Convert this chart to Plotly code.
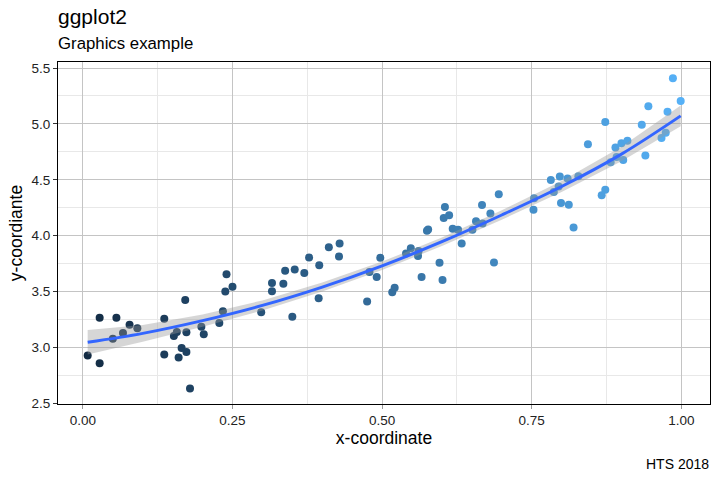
import plotly.graph_objects as go

# scatter points
x_vals = [0.008, 0.028, 0.028, 0.050, 0.056, 0.067, 0.078, 0.091, 0.136, 0.136,
          0.152, 0.157, 0.160, 0.165, 0.173, 0.171, 0.173, 0.179, 0.198, 0.202,
          0.228, 0.234, 0.238, 0.240, 0.250, 0.298, 0.316, 0.316, 0.335, 0.338,
          0.354, 0.370, 0.350, 0.378, 0.395, 0.394, 0.411, 0.428, 0.429, 0.475,
          0.479, 0.491, 0.497, 0.517, 0.521, 0.540, 0.548, 0.561, 0.560, 0.566,
          0.575, 0.577, 0.596, 0.601, 0.603, 0.605, 0.612, 0.618, 0.627, 0.633,
          0.651, 0.657, 0.667, 0.668, 0.681, 0.687, 0.695, 0.753, 0.754, 0.782,
          0.787, 0.797, 0.795, 0.799, 0.812, 0.810, 0.820, 0.828, 0.844, 0.867,
          0.873, 0.873, 0.882, 0.890, 0.892, 0.900, 0.910, 0.903, 0.934, 0.940,
          0.945, 0.967, 0.974, 0.977, 0.986, 0.999]
y_vals = [2.929, 2.858, 3.266, 3.077, 3.266, 3.130, 3.204, 3.172, 2.937, 3.257,
          3.103, 3.139, 2.911, 2.994, 3.136, 3.425, 2.959, 2.633, 3.186, 3.118,
          3.219, 3.323, 3.500, 3.656, 3.544, 3.314, 3.576, 3.503, 3.571, 3.686,
          3.698, 3.665, 3.275, 3.804, 3.736, 3.441, 3.896, 3.813, 3.929, 3.411,
          3.674, 3.630, 3.802, 3.494, 3.535, 3.840, 3.887, 3.864, 3.819, 3.630,
          4.044, 4.055, 3.757, 3.603, 4.159, 4.257, 4.183, 4.062, 4.053, 3.931,
          4.053, 4.130, 4.275, 4.110, 4.199, 3.760, 4.370, 4.233, 4.334, 4.499,
          4.390, 4.529, 4.441, 4.292, 4.277, 4.512, 4.073, 4.532, 4.819, 4.361,
          4.410, 5.017, 4.656, 4.789, 4.703, 4.827, 4.849, 4.677, 4.993, 4.718,
          5.159, 4.875, 4.922, 5.109, 5.408, 5.204]

# smoother line and its confidence band
smooth_x = [0.008, 0.1, 0.2, 0.3, 0.4, 0.5, 0.6, 0.7, 0.8, 0.9, 0.999]
smooth_y = [3.046, 3.126, 3.240, 3.376, 3.540, 3.730, 3.946, 4.185, 4.440, 4.730, 5.072]
band_lo = [2.936, 3.051, 3.185, 3.331, 3.500, 3.692, 3.908, 4.143, 4.390, 4.665, 4.980]
band_hi = [3.156, 3.201, 3.295, 3.421, 3.580, 3.768, 3.984, 4.227, 4.490, 4.795, 5.164]

x_ticks = [0, 0.25, 0.5, 0.75, 1.0]
x_ticklabels = ["0.00", "0.25", "0.50", "0.75", "1.00"]
y_ticks = [2.5, 3.0, 3.5, 4.0, 4.5, 5.0, 5.5]

font_family = "Liberation Sans, Arial, sans-serif"

fig = go.Figure()

fig.add_trace(go.Scatter(
    x=x_vals, y=y_vals, mode="markers",
    marker=dict(size=8, color=x_vals,
                colorscale=[[0, "#132B43"], [1, "#56B1F7"]],
                cmin=min(x_vals), cmax=max(x_vals), line=dict(width=0)),
    showlegend=False, hoverinfo="skip"))

fig.add_trace(go.Scatter(
    x=smooth_x, y=band_lo, mode="lines", line=dict(width=0),
    showlegend=False, hoverinfo="skip"))
fig.add_trace(go.Scatter(
    x=smooth_x, y=band_hi, mode="lines", line=dict(width=0),
    fill="tonexty", fillcolor="rgba(153,153,153,0.4)",
    showlegend=False, hoverinfo="skip"))

fig.add_trace(go.Scatter(
    x=smooth_x, y=smooth_y, mode="lines",
    line=dict(color="#3366FF", width=3, shape="spline"),
    showlegend=False, hoverinfo="skip"))

fig.update_xaxes(
    range=[-0.0416, 1.048], automargin=False,
    tickvals=x_ticks, ticktext=x_ticklabels,
    ticks="outside", ticklen=4, tickcolor="#9a9a9a", tickwidth=1,
    tickfont=dict(size=13.5, color="#222222"),
    showgrid=True, gridcolor="#c4c4c4", gridwidth=1,
    minor=dict(tickvals=[0.125, 0.375, 0.625, 0.875], showgrid=True,
               gridcolor="#e8e8e8", gridwidth=1),
    showline=True, linecolor="black", linewidth=1, mirror=True,
    zeroline=False,
    title=dict(text="x-coordinate", font=dict(size=17.5, color="black"), standoff=3),
)
fig.update_yaxes(
    range=[2.494, 5.554], automargin=False,
    tickvals=y_ticks, tickformat=".1f",
    ticks="outside", ticklen=4, tickcolor="#333333", tickwidth=1,
    tickfont=dict(size=13.5, color="#222222"),
    showgrid=True, gridcolor="#c4c4c4", gridwidth=1,
    minor=dict(tickvals=[2.75, 3.25, 3.75, 4.25, 4.75, 5.25], showgrid=True,
               gridcolor="#e8e8e8", gridwidth=1),
    showline=True, linecolor="black", linewidth=1, mirror=True,
    zeroline=False,
    title=dict(text="y-coordiante", font=dict(size=17.5, color="black"), standoff=4),
)

fig.add_annotation(text="ggplot2", xref="paper", yref="paper", x=0, y=1.1327,
                   xanchor="left", yanchor="middle", xshift=-2, showarrow=False,
                   font=dict(size=21, color="black"))
fig.add_annotation(text="Graphics example", xref="paper", yref="paper", x=0, y=1.0555,
                   xanchor="left", yanchor="middle", xshift=-2, showarrow=False,
                   font=dict(size=16.8, color="black"))
fig.add_annotation(text="HTS 2018", xref="paper", yref="paper", x=1, y=-0.1744,
                   xanchor="right", yanchor="middle", xshift=1, showarrow=False,
                   font=dict(size=14, color="black"))

fig.update_layout(
    width=720, height=480,
    margin=dict(l=58, r=10, t=62, b=76),
    paper_bgcolor="white", plot_bgcolor="white",
    font=dict(family=font_family),
    showlegend=False,
)

# drop the default 8px page margin so the figure fills the window
fig.write_html("out.html", config={"displayModeBar": False},
               post_script="document.body.style.margin='0';")
